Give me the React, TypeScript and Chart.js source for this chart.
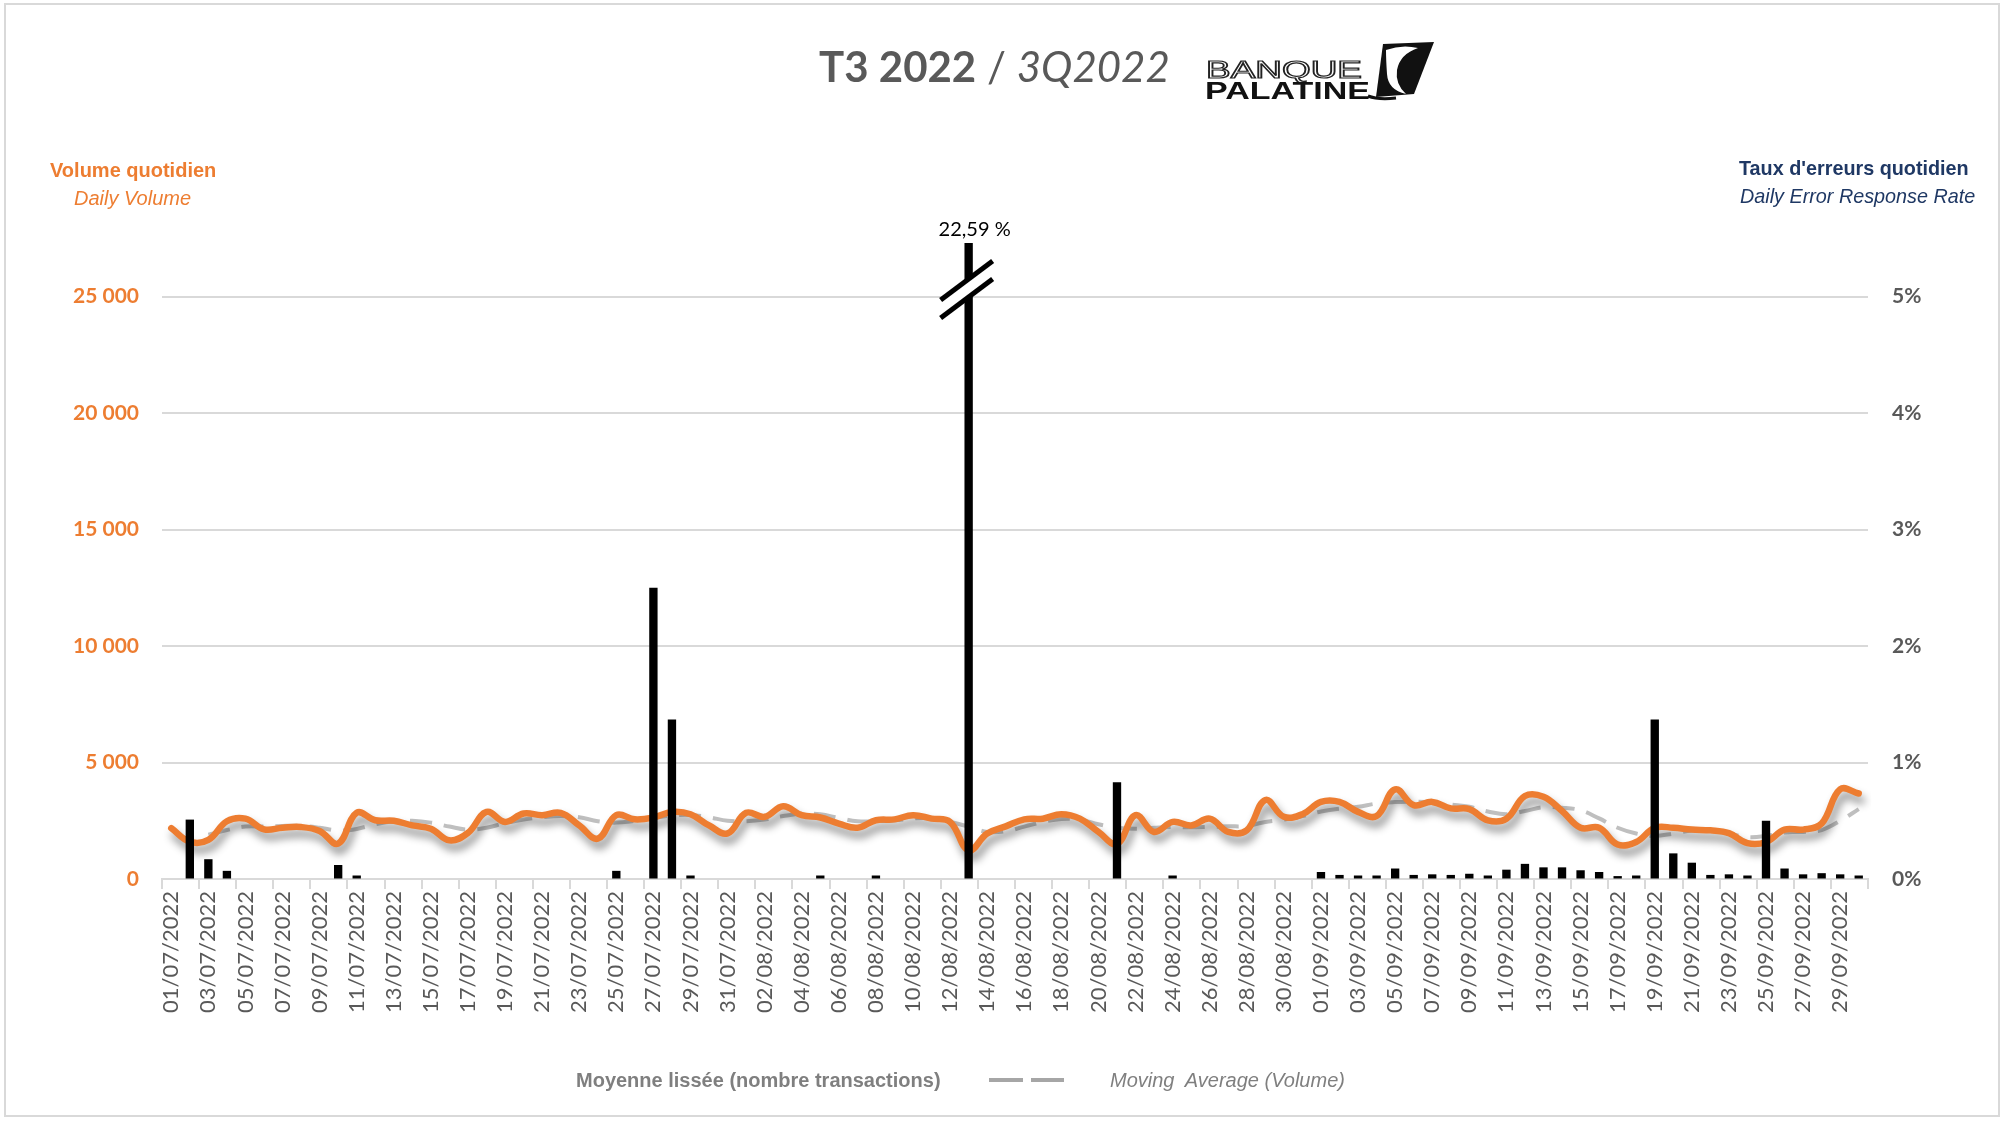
import React, { useEffect, useRef } from "react";
import { Chart, registerables } from "chart.js";

Chart.register(...registerables);

// ---------- DATA ----------
const julyDays = [
  "01/07/2022", "02/07/2022", "03/07/2022", "04/07/2022", "05/07/2022", "06/07/2022", "07/07/2022", "08/07/2022",
  "09/07/2022", "10/07/2022", "11/07/2022", "12/07/2022", "13/07/2022", "14/07/2022", "15/07/2022", "16/07/2022",
  "17/07/2022", "18/07/2022", "19/07/2022", "20/07/2022", "21/07/2022", "22/07/2022", "23/07/2022", "24/07/2022",
  "25/07/2022", "26/07/2022", "27/07/2022", "28/07/2022", "29/07/2022", "30/07/2022", "31/07/2022",
];
const augustDays = [
  "01/08/2022", "02/08/2022", "03/08/2022", "04/08/2022", "05/08/2022", "06/08/2022", "07/08/2022", "08/08/2022",
  "09/08/2022", "10/08/2022", "11/08/2022", "12/08/2022", "13/08/2022", "14/08/2022", "15/08/2022", "16/08/2022",
  "17/08/2022", "18/08/2022", "19/08/2022", "20/08/2022", "21/08/2022", "22/08/2022", "23/08/2022", "24/08/2022",
  "25/08/2022", "26/08/2022", "27/08/2022", "28/08/2022", "29/08/2022", "30/08/2022", "31/08/2022",
];
const septemberDays = [
  "01/09/2022", "02/09/2022", "03/09/2022", "04/09/2022", "05/09/2022", "06/09/2022", "07/09/2022", "08/09/2022",
  "09/09/2022", "10/09/2022", "11/09/2022", "12/09/2022", "13/09/2022", "14/09/2022", "15/09/2022", "16/09/2022",
  "17/09/2022", "18/09/2022", "19/09/2022", "20/09/2022", "21/09/2022", "22/09/2022", "23/09/2022", "24/09/2022",
  "25/09/2022", "26/09/2022", "27/09/2022", "28/09/2022", "29/09/2022", "30/09/2022",
];
const categories = [...julyDays, ...augustDays, ...septemberDays];

// Daily volume (left axis)
const dailyVolume = [
  2180, 1600, 1680, 2480, 2590, 2130, 2200, 2230, 2060, 1520,
  2840, 2520, 2500, 2300, 2160, 1660, 1980, 2880, 2450, 2810,
  2740, 2840, 2300, 1730, 2740, 2560, 2640, 2880, 2780, 2300,
  1960, 2840, 2670, 3120, 2740, 2640, 2380, 2200, 2520, 2560,
  2740, 2590, 2450, 1230, 1950, 2260, 2560, 2590, 2780, 2590,
  2020, 1500, 2740, 2020, 2450, 2300, 2590, 2020, 2090, 3390,
  2670, 2780, 3310, 3310, 2880, 2700, 3850, 3170, 3310, 3030,
  3000, 2520, 2590, 3560, 3530, 2920, 2200, 2200, 1480, 1590,
  2200, 2200, 2120, 2090, 1970, 1540, 1590, 2120, 2120, 2380,
  3850, 3670,
];

// Moving average (left axis)
const movingAverage: (number | null)[] = [
  null, null, 1900, 2100, 2250, 2250, 2280, 2280, 2200, 2080,
  2150, 2350, 2480, 2500, 2420, 2250, 2120, 2200, 2400, 2550,
  2650, 2700, 2650, 2480, 2420, 2500, 2620, 2720, 2750, 2650,
  2500, 2480, 2550, 2700, 2800, 2780, 2620, 2480, 2480, 2520,
  2600, 2600, 2450, 2250, 2020, 2050, 2250, 2450, 2580, 2550,
  2350, 2200, 2160, 2200, 2230, 2220, 2240, 2260, 2280, 2450,
  2550, 2700, 2900, 3020, 3100, 3240, 3300, 3320, 3300, 3200,
  3100, 2900, 2780, 2920, 3080, 3060, 2950, 2600, 2200, 1950,
  1850, 1950, 2080, 2090, 1950, 1800, 1850, 2000, 2020, 2100,
  2500, 3000,
];

// Daily error response rate, % (right axis)
const errorRate = [
  0, 0.51, 0.17, 0.07, 0, 0, 0, 0, 0, 0.12,
  0.03, 0, 0, 0, 0, 0, 0, 0, 0, 0,
  0, 0, 0, 0, 0.07, 0, 2.5, 1.37, 0.03, 0,
  0, 0, 0, 0, 0, 0.03, 0, 0, 0.03, 0,
  0, 0, 0, 22.59, 0, 0, 0, 0, 0, 0,
  0, 0.83, 0, 0, 0.03, 0, 0, 0, 0, 0,
  0, 0, 0.06, 0.035, 0.03, 0.03, 0.09, 0.035, 0.04, 0.035,
  0.045, 0.03, 0.08, 0.13, 0.1, 0.1, 0.075, 0.06, 0.025, 0.03,
  1.37, 0.22, 0.14, 0.035, 0.04, 0.03, 0.5, 0.09, 0.04, 0.05,
  0.04, 0.03,
];

const volumeTicks = [0, 5000, 10000, 15000, 20000, 25000];
const errorTicks = [0, 1, 2, 3, 4, 5];
const volumeAxisMax = 27300;
const errorAxisMax = 5.46;

const VOLUME_LABEL = "Volume quotidien";
const MA_LABEL = "Moyenne lissée (nombre transactions)";
const ERROR_LABEL = "Taux d'erreurs quotidien";

const ORANGE = "#ED7D31";
const NAVY = "#1F3864";
const GREY_TEXT = "#595959";
const GRID = "#D9D9D9";

const formatVolume = (v: number) => String(v).replace(/\B(?=(\d{3})+(?!\d))/g, " ");

// ---------- PLUGINS ----------
const shadowPlugin = {
  id: "lineShadow",
  beforeDatasetDraw(chart: any, args: any) {
    if (chart.data.datasets[args.index].label !== VOLUME_LABEL) return;
    const ctx = chart.ctx;
    ctx.save();
    ctx.shadowColor = "rgba(0,0,0,0.45)";
    ctx.shadowBlur = 9;
    ctx.shadowOffsetX = 3;
    ctx.shadowOffsetY = 7;
  },
  afterDatasetDraw(chart: any, args: any) {
    if (chart.data.datasets[args.index].label !== VOLUME_LABEL) return;
    chart.ctx.restore();
  },
};

const breakPlugin = {
  id: "axisBreak",
  afterDatasetsDraw(chart: any) {
    const idx = chart.data.datasets.findIndex((d: any) => d.label === ERROR_LABEL);
    const meta = chart.getDatasetMeta(idx);
    const yR = chart.scales.yR;
    const yL = chart.scales.yL;
    const ctx = chart.ctx;
    errorRate.forEach((v, i) => {
      if (v <= yR.max) return;
      const bar = meta.data[i];
      const x = bar.x;
      const y0 = yL.getPixelForValue(volumeTicks[volumeTicks.length - 1]);
      const hx = 26;
      const hy = 19.5;
      const c1 = { x: x - 2, y: y0 - 16 };
      const c2 = { x: x - 2, y: y0 + 2 };
      ctx.save();
      ctx.fillStyle = "#ffffff";
      ctx.beginPath();
      ctx.moveTo(c1.x - hx, c1.y + hy);
      ctx.lineTo(c1.x + hx, c1.y - hy);
      ctx.lineTo(c2.x + hx, c2.y - hy);
      ctx.lineTo(c2.x - hx, c2.y + hy);
      ctx.closePath();
      ctx.fill();
      ctx.strokeStyle = "#000000";
      ctx.lineWidth = 5;
      [c1, c2].forEach((c) => {
        ctx.beginPath();
        ctx.moveTo(c.x - hx, c.y + hy);
        ctx.lineTo(c.x + hx, c.y - hy);
        ctx.stroke();
      });
      ctx.fillStyle = "#000000";
      ctx.font = "20px Lato";
      ctx.textAlign = "center";
      ctx.textBaseline = "alphabetic";
      ctx.fillText(v.toFixed(2).replace(".", ",") + " %", x + 6, chart.chartArea.top - 7);
      ctx.restore();
    });
  },
};

// ---------- COMPONENT ----------
const abs = (style: React.CSSProperties): React.CSSProperties => ({
  position: "absolute",
  whiteSpace: "pre",
  lineHeight: 1,
  margin: 0,
  ...style,
});

export default function App() {
  const canvasRef = useRef<HTMLCanvasElement | null>(null);

  useEffect(() => {
    document.body.style.margin = "0";
    const canvas = canvasRef.current;
    if (!canvas) return;
    const chart = new Chart(canvas, {
      type: "bar",
      data: {
        labels: categories,
        datasets: [
          {
            type: "bar",
            label: ERROR_LABEL,
            data: errorRate,
            yAxisID: "yR",
            backgroundColor: "#000000",
            barPercentage: 0.45,
            categoryPercentage: 1,
            order: 0,
          } as any,
          {
            type: "line",
            label: VOLUME_LABEL,
            data: dailyVolume,
            yAxisID: "yL",
            borderColor: ORANGE,
            borderWidth: 6.5,
            tension: 0.4,
            pointRadius: 0,
            borderCapStyle: "round",
            borderJoinStyle: "round",
            order: 1,
          } as any,
          {
            type: "line",
            label: MA_LABEL,
            data: movingAverage,
            yAxisID: "yL",
            borderColor: "#BFBFBF",
            borderWidth: 4,
            borderDash: [22, 12],
            tension: 0.4,
            pointRadius: 0,
            order: 2,
          } as any,
        ],
      },
      options: {
        responsive: false,
        animation: false,
        events: [],
        layout: { padding: { top: 243, left: 0, right: 0, bottom: 0 } },
        plugins: {
          legend: { display: false },
          tooltip: { enabled: false },
          title: { display: false },
        },
        scales: {
          x: {
            offset: true,
            grid: {
              offset: true,
              drawOnChartArea: false,
              drawTicks: true,
              tickLength: 10,
              lineWidth: 2,
              color: (ctx: any) =>
                ctx.index === undefined || ctx.index % 2 === 0 ? GRID : "rgba(0,0,0,0)",
            },
            border: { color: GRID, width: 2 },
            ticks: {
              autoSkip: false,
              maxRotation: 90,
              minRotation: 90,
              padding: 2,
              color: GREY_TEXT,
              font: { family: "Lato", size: 22 },
              callback: (_v: any, i: number) => (i % 2 === 0 ? categories[i] : ""),
            },
            afterFit: (s: any) => {
              s.height = 242;
            },
          },
          yL: {
            position: "left",
            min: 0,
            max: volumeAxisMax,
            afterBuildTicks: (s: any) => {
              s.ticks = volumeTicks.map((v) => ({ value: v }));
            },
            grid: { color: GRID, lineWidth: 2, drawTicks: false },
            border: { display: false },
            ticks: {
              padding: 23,
              color: ORANGE,
              font: { family: "Lato", size: 21, weight: "bold" },
              callback: (v: any) => formatVolume(Number(v)),
            },
            afterFit: (s: any) => {
              s.width = 162;
            },
          },
          yR: {
            position: "right",
            min: 0,
            max: errorAxisMax,
            afterBuildTicks: (s: any) => {
              s.ticks = errorTicks.map((v) => ({ value: v }));
            },
            grid: { drawOnChartArea: false, drawTicks: false },
            border: { display: false },
            ticks: {
              padding: 24,
              color: GREY_TEXT,
              font: { family: "Lato", size: 21, weight: "bold" },
              callback: (v: any) => `${v}%`,
            },
            afterFit: (s: any) => {
              s.width = 138;
            },
          },
        },
      } as any,
      plugins: [shadowPlugin, breakPlugin],
    });
    return () => chart.destroy();
  }, []);

  const arial = '"Liberation Sans", Arial, sans-serif';

  return (
    <div
      style={{
        position: "absolute",
        left: 0,
        top: 0,
        width: 2006,
        height: 1121,
        background: "#ffffff",
        overflow: "hidden",
      }}
    >
      <div
        style={{
          position: "absolute",
          left: 4,
          top: 3,
          width: 1992,
          height: 1110,
          border: "2px solid #D9D9D9",
        }}
      />
      <canvas ref={canvasRef} width={2006} height={1121} style={{ position: "absolute", left: 0, top: 0 }} />

      {/* Title */}
      <div style={abs({ left: 819, top: 45, fontFamily: "Lato", fontSize: 42, color: GREY_TEXT })}>
        <span style={{ fontWeight: "bold" }}>T3 2022</span>
        <span> / </span>
        <span style={{ fontStyle: "italic" }}>3Q2022</span>
      </div>

      {/* Logo */}
      <svg style={{ position: "absolute", left: 1200, top: 34 }} width={240} height={70} viewBox="0 0 240 70">
        <text
          x={6}
          y={44}
          textLength={156}
          lengthAdjust="spacingAndGlyphs"
          fontFamily={arial}
          fontSize={23}
          fill="#ffffff"
          stroke="#222222"
          strokeWidth={1.2}
        >
          BANQUE
        </text>
        <text
          x={5}
          y={65}
          textLength={165}
          lengthAdjust="spacingAndGlyphs"
          fontFamily={arial}
          fontSize={23}
          fontWeight="bold"
          fill="#111111"
        >
          PALATINE
        </text>
        <path d="M183 10 L234 8 L214 60 L176 63 Z" fill="#111111" />
        <path d="M186 16 Q202 10 218 14 Q200 20 197 36 Q195 50 206 60 Q188 56 187 40 Q186 26 186 16 Z" fill="#ffffff" />
        <path d="M168 62 Q178 66 196 64" stroke="#111111" strokeWidth={3} fill="none" />
      </svg>

      {/* Axis titles */}
      <div style={abs({ left: 50, top: 160, fontFamily: arial, fontSize: 20, fontWeight: "bold", color: ORANGE })}>
        Volume quotidien
      </div>
      <div style={abs({ left: 74, top: 188, fontFamily: arial, fontSize: 20, fontStyle: "italic", color: ORANGE })}>
        Daily Volume
      </div>
      <div style={abs({ left: 1739, top: 159, fontFamily: arial, fontSize: 19.8, fontWeight: "bold", color: NAVY })}>
        Taux d'erreurs quotidien
      </div>
      <div style={abs({ left: 1740, top: 187, fontFamily: arial, fontSize: 19.8, fontStyle: "italic", color: NAVY })}>
        Daily Error Response Rate
      </div>

      {/* Legend */}
      <div style={abs({ left: 576, top: 1070, fontFamily: arial, fontSize: 20, fontWeight: "bold", color: "#7F7F7F" })}>
        {MA_LABEL}
      </div>
      <div style={{ position: "absolute", left: 989, top: 1078, width: 34, height: 4, background: "#A6A6A6" }} />
      <div style={{ position: "absolute", left: 1031, top: 1078, width: 33, height: 4, background: "#A6A6A6" }} />
      <div style={abs({ left: 1110, top: 1070, fontFamily: arial, fontSize: 20, fontStyle: "italic", color: "#7F7F7F" })}>
        {"Moving  Average (Volume)"}
      </div>
    </div>
  );
}
